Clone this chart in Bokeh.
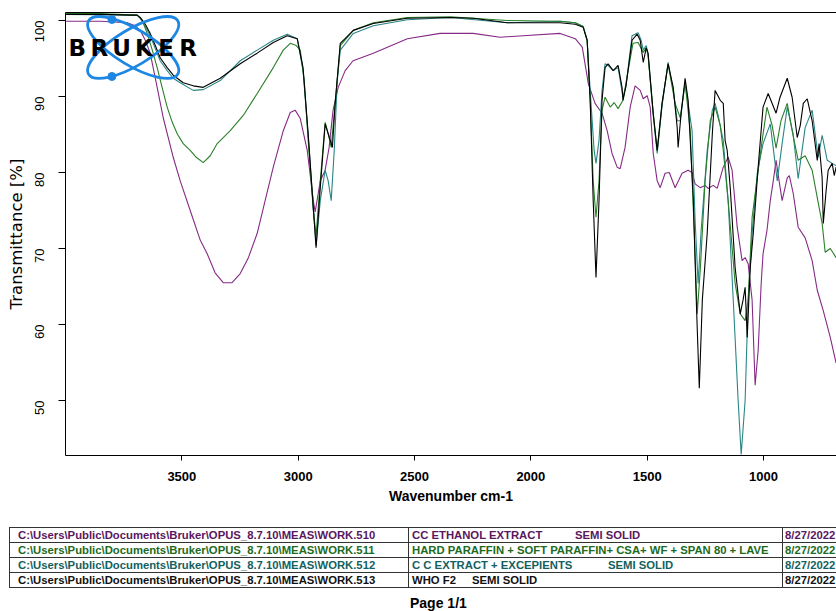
import math
from bokeh.plotting import figure
from bokeh.models import Range1d, FixedTicker, LinearAxis, Div
from bokeh.layouts import column
from bokeh.embed import file_html
from bokeh.resources import INLINE
from bokeh.core.properties import value

# ---------------- data (wavenumber cm-1, transmittance %) ----------------
SPEC_510 = [(3997,99.9),(3851,99.9),(3735,99.7),(3700,99.3),(3679,98.7),(3657,97.4),(3636,95.7),
    (3606,91.2),(3580,87.2),(3537,82.0),(3507,78.9),(3464,75.0),(3421,71.1),(3391,69.3),(3357,66.8),
    (3322,65.5),(3284,65.5),(3249,66.7),(3215,68.7),(3176,72.0),(3142,76.3),(3107,80.7),(3064,85.5),
    (3034,87.9),(3013,88.2),(2991,87.1),(2961,82.9),(2935,76.3),(2927,74.8),(2905,78.9),(2884,80.3),
    (2867,83.3),(2850,88.2),(2828,91.2),(2798,93.4),(2764,94.7),(2677,95.7),(2531,97.6),(2390,98.3),
    (2248,98.3),(2132,97.8),(2033,98.0),(1874,98.3),(1809,97.6),(1779,96.5),(1753,91.7),(1724,89.1),
    (1694,87.8),(1672,85.5),(1651,82.5),(1629,80.7),(1616,80.5),(1595,83.3),(1573,88.6),(1552,91.4),
    (1530,90.8),(1517,89.7),(1500,90.1),(1487,88.6),(1474,82.5),(1457,78.9),(1444,78.0),(1423,79.9),
    (1405,80.0),(1380,78.0),(1350,79.9),(1324,80.3),(1307,80.0),(1294,78.5),(1272,78.0),(1251,78.3),
    (1238,77.9),(1216,78.3),(1199,77.9),(1173,80.7),(1152,82.0),(1135,80.3),(1113,72.8),(1092,68.4),
    (1079,68.8),(1066,68.0),(1049,63.2),(1036,52.0),(1023,56.6),(1010,65.4),(1002,69.3),(985,72.4),
    (971,76.3),(958,78.9),(946,81.6),(933,78.9),(920,76.3),(898,79.3),(889,79.6),(872,77.2),(851,72.8),
    (821,71.4),(791,68.4),(769,64.5),(743,61.8),(713,58.3),(688,54.9)]

SPEC_511 = [(3997,100.9),(3851,100.9),(3692,100.7),(3670,100.0),(3649,98.3),(3627,96.1),(3606,93.8),
    (3584,91.1),(3563,88.6),(3541,86.6),(3520,85.1),(3494,83.8),(3464,82.9),(3438,82.0),(3408,81.3),
    (3378,82.2),(3348,83.8),(3292,85.5),(3236,87.5),(3176,90.4),(3107,93.8),(3064,96.1),(3034,97.0),
    (3008,96.7),(2991,96.1),(2974,92.1),(2957,84.2),(2935,75.0),(2923,71.7),(2905,78.9),(2884,86.6),
    (2871,85.1),(2858,83.3),(2840,89.5),(2819,96.7),(2763,98.7),(2677,99.7),(2531,100.4),(2346,100.5),
    (2101,100.0),(1874,99.9),(1809,99.7),(1775,99.2),(1758,97.4),(1745,89.5),(1732,78.9),(1720,74.1),
    (1707,78.9),(1694,88.2),(1681,89.9),(1659,88.6),(1642,89.2),(1625,88.4),(1604,89.5),(1582,93.4),
    (1561,97.0),(1539,97.1),(1517,95.8),(1504,96.4),(1496,95.4),(1474,87.8),(1457,82.9),(1436,89.1),
    (1410,94.3),(1380,89.1),(1358,87.2),(1337,91.8),(1315,85.5),(1298,72.4),(1285,61.4),(1272,67.1),
    (1251,78.9),(1229,86.8),(1208,88.6),(1186,86.2),(1173,82.9),(1152,76.3),(1122,65.4),(1100,61.4),
    (1079,60.5),(1066,63.2),(1049,74.1),(1027,79.3),(1006,84.2),(985,88.6),(963,86.2),(946,83.2),
    (925,86.8),(898,89.1),(877,85.5),(851,81.6),(821,82.2),(791,80.3),(769,76.7),(748,73.3),(735,69.5),
    (713,70.0),(688,68.8)]

SPEC_512 = [(3997,100.8),(3692,100.7),(3679,100.3),(3657,99.2),(3636,98.0),(3614,96.3),(3593,94.7),
    (3563,93.4),(3537,92.4),(3507,91.8),(3451,90.8),(3408,90.9),(3335,92.1),(3249,94.7),(3176,96.1),
    (3107,97.4),(3047,98.2),(3004,97.6),(2979,93.4),(2957,84.9),(2935,75.4),(2923,70.4),(2905,76.3),
    (2884,80.3),(2871,78.9),(2858,76.3),(2845,82.9),(2832,92.1),(2819,96.1),(2763,98.3),(2677,99.3),
    (2531,100.1),(2346,100.4),(2101,99.7),(1874,99.9),(1809,99.7),(1775,99.2),(1758,97.4),(1745,90.8),
    (1728,82.9),(1720,81.2),(1707,84.2),(1694,90.8),(1681,94.3),(1668,94.1),(1646,93.4),(1625,93.8),
    (1604,89.9),(1591,91.4),(1565,98.0),(1539,98.4),(1526,97.4),(1517,96.1),(1504,96.7),(1496,95.4),
    (1474,87.5),(1457,82.5),(1436,88.8),(1410,94.5),(1388,90.8),(1371,86.8),(1358,86.8),(1337,91.8),
    (1307,85.5),(1294,73.7),(1281,65.4),(1268,72.4),(1242,82.9),(1220,88.2),(1208,89.1),(1195,87.5),
    (1173,84.2),(1152,76.3),(1130,63.2),(1109,50.0),(1096,42.9),(1079,50.0),(1066,63.2),(1049,72.0),
    (1027,79.9),(1002,83.8),(971,86.4),(941,78.9),(920,83.8),(898,88.6),(873,85.1),(851,79.2),
    (821,85.9),(791,88.2),(769,82.9),(765,82.0),(748,84.9),(726,81.6),(705,81.2),(688,80.9)]

SPEC_513 = [(3997,100.8),(3851,100.8),(3722,100.7),(3692,100.7),(3679,100.4),(3657,99.5),(3636,98.3),
    (3614,96.7),(3593,95.1),(3563,93.8),(3537,92.8),(3494,91.8),(3451,91.4),(3408,91.2),(3335,92.4),
    (3249,94.3),(3176,95.7),(3107,97.1),(3047,98.0),(3004,97.6),(2979,93.8),(2957,85.1),(2935,75.4),
    (2923,70.1),(2905,78.0),(2884,86.4),(2871,85.1),(2853,83.3),(2840,89.5),(2819,97.0),(2763,98.7),
    (2677,99.6),(2531,100.3),(2346,100.4),(2247,100.3),(2101,99.7),(1960,99.7),(1874,99.7),(1809,99.5),
    (1775,99.1),(1758,97.4),(1745,89.5),(1732,76.3),(1720,66.2),(1707,76.3),(1694,89.5),(1681,93.8),
    (1668,94.3),(1646,93.4),(1625,94.1),(1608,91.2),(1604,89.5),(1591,91.4),(1565,97.4),(1543,98.2),
    (1530,97.4),(1517,94.5),(1504,96.4),(1496,95.7),(1474,87.8),(1457,82.9),(1436,89.1),(1410,94.3),
    (1388,91.2),(1371,85.9),(1367,83.3),(1354,87.8),(1337,92.4),(1324,89.5),(1302,76.7),(1289,63.2),
    (1276,51.6),(1263,63.2),(1242,72.0),(1220,85.1),(1208,90.8),(1186,89.5),(1173,89.1),(1165,84.2),
    (1156,82.9),(1143,78.0),(1122,67.5),(1100,61.4),(1088,63.2),(1079,64.9),(1070,58.3),(1057,67.5),
    (1044,72.0),(1023,80.7),(1002,88.6),(980,90.4),(946,87.8),(929,89.9),(898,92.4),(877,89.9),
    (855,84.6),(842,86.2),(829,89.1),(812,89.7),(791,86.8),(769,81.6),(761,83.8),(748,79.3),(743,73.3),
    (731,77.6),(722,80.3),(705,81.2),(696,79.6),(688,80.7)]

SERIES = [SPEC_510, SPEC_512, SPEC_511, SPEC_513]          # drawing order
SERIES_COLORS = ["#862a86", "#2a8585", "#2a7f2a", "#000000"]

X_TICKS = [3500, 3000, 2500, 2000, 1500, 1000]
Y_TICKS = [50, 60, 70, 80, 90, 100]

ROW_PATHS = ["C:\\Users\\Public\\Documents\\Bruker\\OPUS_8.7.10\\MEAS\\WORK.510",
             "C:\\Users\\Public\\Documents\\Bruker\\OPUS_8.7.10\\MEAS\\WORK.511",
             "C:\\Users\\Public\\Documents\\Bruker\\OPUS_8.7.10\\MEAS\\WORK.512",
             "C:\\Users\\Public\\Documents\\Bruker\\OPUS_8.7.10\\MEAS\\WORK.513"]
ROW_DESC_A = ["CC ETHANOL EXTRACT", "HARD PARAFFIN + SOFT PARAFFIN+ CSA+ WF + SPAN 80 + LAVE",
              "C C EXTRACT + EXCEPIENTS", "WHO F2"]
ROW_DESC_B = ["SEMI SOLID", "", "SEMI SOLID", "SEMI SOLID"]
ROW_DATES = ["8/27/2022", "8/27/2022", "8/27/2022", "8/27/2022"]
ROW_COLORS = ["#5a1760", "#1d6a1d", "#145f5f", "#111111"]
ROW_DESC_GAP = [163, 0, 196, 60]

# ---------------- figure ----------------
X0, X1 = 4000, 686.3
Y0, Y1 = 42.76, 101.05

p = figure(width=836, height=527, x_range=Range1d(X0, X1), y_range=Range1d(Y0, Y1),
           output_backend="svg", toolbar_location=None,
           min_border_left=65, min_border_right=0, min_border_top=12, min_border_bottom=72)
p.xgrid.visible = False
p.ygrid.visible = False
p.outline_line_color = None
p.background_fill_color = "white"
p.border_fill_color = "white"

for spec, col in zip(SERIES, SERIES_COLORS):
    xs = [a for a, b in spec]
    ys = [b for a, b in spec]
    p.line(xs, ys, line_color=col, line_width=1.1)

# axes
xa = p.xaxis[0]
xa.ticker = FixedTicker(ticks=X_TICKS)
xa.minor_tick_line_color = None
xa.major_tick_in = 0
xa.major_tick_out = 5
xa.major_label_standoff = 11
xa.major_label_text_font = "Liberation Sans"
xa.major_label_text_font_style = "bold"
xa.major_label_text_font_size = "13px"
xa.major_label_text_color = "black"
xa.axis_label = "Wavenumber cm-1"
xa.axis_label_text_font = "Liberation Sans"
xa.axis_label_text_font_style = "bold"
xa.axis_label_text_font_size = "14px"
xa.axis_label_text_color = "black"
xa.axis_label_standoff = 4
xa.axis_line_color = "black"

ya = p.yaxis[0]
ya.ticker = FixedTicker(ticks=Y_TICKS)
ya.minor_tick_line_color = None
ya.major_tick_in = 0
ya.major_tick_out = 7
ya.major_label_orientation = math.pi / 2
ya.major_label_standoff = 19
ya.major_label_text_font = "Liberation Sans"
ya.major_label_text_font_size = "13px"
ya.major_label_text_color = "black"
ya.axis_label = "Transmittance [%]"
ya.axis_label_text_font = "DejaVu Sans"
ya.axis_label_text_font_style = "normal"
ya.axis_label_text_font_size = "16.5px"
ya.axis_label_text_color = "black"
ya.axis_label_standoff = 2
ya.axis_line_color = "black"

top = LinearAxis(ticker=FixedTicker(ticks=[]), major_tick_line_color=None,
                 minor_tick_line_color=None, major_label_text_font_size="0px",
                 major_label_standoff=0, axis_line_color="black")
p.add_layout(top, "above")

# ---------------- Bruker logo (decoration, placed by reference pixels) ----------------
def px_x(x):
    return X0 - (x - 65.3) / 0.23267

def px_y(y):
    return 100 - (y - 20) / 7.6

LOGO_BLUE = "#1d87e3"
p.ellipse(x=[px_x(133)] * 2, y=[px_y(47)] * 2, width=104, height=36,
          width_units="screen", height_units="screen",
          angle=[math.radians(31), math.radians(-31)],
          fill_color=None, line_color=LOGO_BLUE, line_width=2.8)
p.scatter(x=[px_x(111.7)] * 2, y=[px_y(19), px_y(76)], size=8,
          fill_color=LOGO_BLUE, line_color=LOGO_BLUE)
letters = list("BRUKER")
letter_x = [77, 99.2, 121.4, 143.6, 165.8, 188]
p.text(x=[px_x(v) for v in letter_x], y=[px_y(47.5)] * 6, text=letters,
       text_font=value("DejaVu Sans"), text_font_style="bold", text_font_size="23px",
       text_align="center", text_baseline="middle", text_color="black")

# ---------------- table below ----------------
rows = []
for path, da, db, dt, c, gap in zip(ROW_PATHS, ROW_DESC_A, ROW_DESC_B, ROW_DATES, ROW_COLORS, ROW_DESC_GAP):
    if db:
        desc = f'<span style="display:inline-block;width:{gap}px">{da}</span>{db}'
    else:
        desc = da
    td = "border:1px solid #333;height:14px;line-height:14px;white-space:pre;overflow:hidden;"
    rows.append(
        f'<tr><td style="{td}padding:0 0 0 8px;color:{c}">{path}</td>'
        f'<td style="{td}padding:0 0 0 3px;color:{c}">{desc}</td>'
        f'<td style="{td}padding:0 0 0 2px;color:{c}">{dt}</td></tr>')

html = (
    '<div style="position:relative;width:836px;height:84px;overflow:hidden;'
    "font-family:'Liberation Sans',Arial,sans-serif;font-weight:bold;font-size:11.3px;\">"
    '<table style="position:absolute;left:9px;top:0;border-collapse:collapse;table-layout:fixed;width:910px">'
    '<colgroup><col style="width:399px"><col style="width:374px"><col style="width:137px"></colgroup>'
    + "".join(rows) +
    '</table>'
    '<div style="position:absolute;left:410px;top:69px;font-size:14px;line-height:14px;color:black">Page 1/1</div>'
    '</div>')

div = Div(text=html, width=836, height=84, margin=0)

layout = column(p, div, spacing=0)
open("out.html", "w").write(file_html(layout, INLINE))
